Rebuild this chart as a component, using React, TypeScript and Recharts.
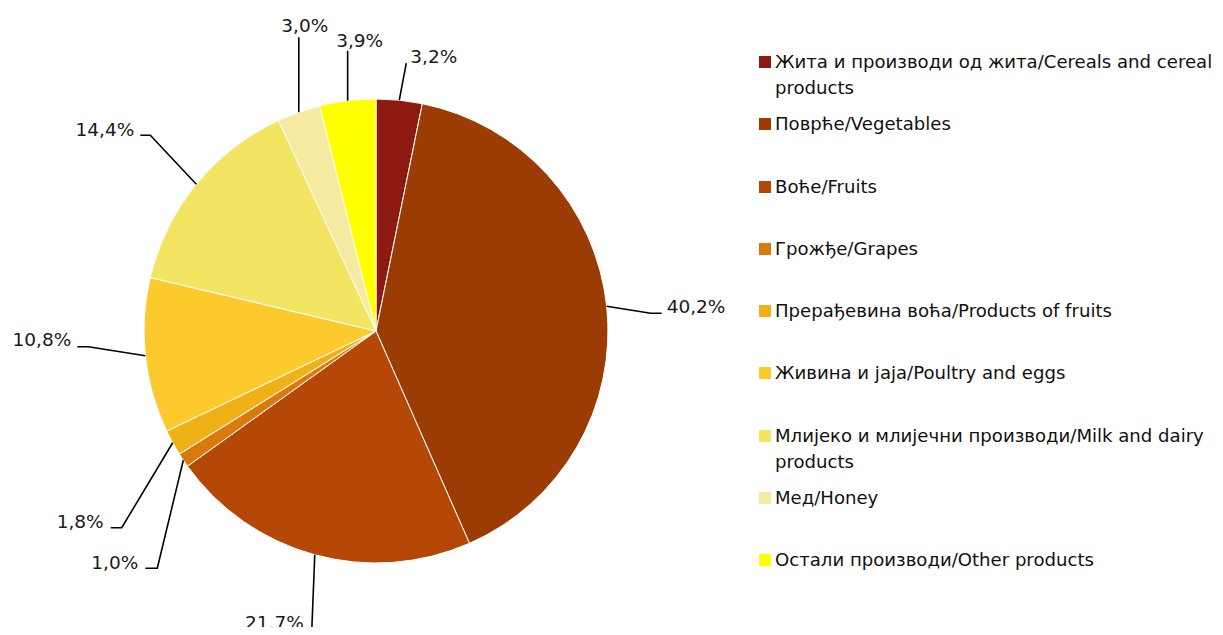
import React from 'react';
import { PieChart, Pie, Cell, Legend } from 'recharts';

const CATEGORIES = [
  'Жита и производи од жита/Cereals and cereal products',
  'Поврће/Vegetables',
  'Воће/Fruits',
  'Грожђе/Grapes',
  'Прерађевина воћа/Products of fruits',
  'Живина и јаја/Poultry and eggs',
  'Млијеко и млијечни производи/Milk and dairy products',
  'Мед/Honey',
  'Остали производи/Other products',
];
const VALUES = [3.2, 40.2, 21.7, 1.0, 1.8, 10.8, 14.4, 3.0, 3.9];
const COLORS = ['#8C1A10', '#9A3C03', '#B54806', '#DA7A0C', '#EFB116', '#FDCA2E', '#F3E462', '#F6E9A0', '#FFFF00'];

const FONT = "'DejaVu Sans', Verdana, sans-serif";

// leader line layout (elbow offset from slice edge, horizontal tail, text offset)
const LABEL_LAYOUT = [
  { ex: 7, ey: -37, h: 0, tx: 4, ty: -7, anchor: 'start' },
  { ex: 44, ey: 7, h: 11, tx: 5, ty: -7, anchor: 'start' },
  { ex: -3, ey: 75, h: -4, tx: -4, ty: -7, anchor: 'end' },
  { ex: -26, ey: 108, h: -12, tx: -7, ty: -6, anchor: 'end' },
  { ex: -51, ey: 85, h: -11, tx: -7, ty: -6, anchor: 'end' },
  { ex: -57, ey: -9, h: -11, tx: -6, ty: -7, anchor: 'end' },
  { ex: -46, ey: -49, h: -10, tx: -6, ty: -6, anchor: 'end' },
  { ex: 0, ey: -75, h: 0, tx: 6, ty: -12, anchor: 'middle' },
  { ex: 0, ey: -50, h: 0, tx: 12, ty: -10, anchor: 'middle' },
];

const data = CATEGORIES.map((name, i) => ({ name, value: VALUES[i] }));

const fmt = (v: number) => v.toFixed(1).replace('.', ',') + '%';

const renderLabel = (props: any) => {
  const { cx, cy, midAngle, outerRadius, index, value } = props;
  const rad = (-midAngle * Math.PI) / 180;
  const ax = cx + outerRadius * Math.cos(rad);
  const ay = cy + outerRadius * Math.sin(rad);
  const L = LABEL_LAYOUT[index];
  const ex = ax + L.ex;
  const ey = ay + L.ey;
  const hx = ex + L.h;
  return (
    <g key={`lbl-${index}`}>
      <polyline
        points={`${ax},${ay} ${ex},${ey} ${hx},${ey}`}
        fill="none"
        stroke="#000"
        strokeWidth={1.6}
      />
      <text
        x={hx + L.tx}
        y={ey + L.ty}
        textAnchor={L.anchor as any}
        dominantBaseline="central"
        fontFamily={FONT}
        fontSize={18.5}
        fill="#1a1a1a"
      >
        {fmt(value)}
      </text>
    </g>
  );
};

const renderLegend = () => (
  <div style={{ position: 'relative', width: 464, height: 635 }}>
    {CATEGORIES.map((name, i) => (
      <div
        key={name}
        style={{
          position: 'absolute',
          left: 0,
          top: 62 + i * 62.25 - 13,
          display: 'flex',
          alignItems: 'flex-start',
          fontFamily: FONT,
          fontSize: 18.1,
          lineHeight: '26px',
          color: '#111',
        }}
      >
        <div
          style={{
            width: 12,
            height: 12,
            marginTop: 7,
            marginRight: 4,
            background: COLORS[i],
            flex: '0 0 12px',
          }}
        />
        <div style={{ width: 446 }}>{name}</div>
      </div>
    ))}
  </div>
);

export default function App() {
  return (
    <div style={{ margin: -8, width: 1223, height: 635, background: '#fff', overflow: 'hidden' }}>
      <PieChart width={1223} height={635}>
        <Pie
          data={data}
          dataKey="value"
          nameKey="name"
          cx={371}
          cy={326}
          outerRadius={232}
          startAngle={90}
          endAngle={-270}
          stroke="#fff"
          strokeWidth={1}
          label={renderLabel}
          labelLine={false}
          isAnimationActive={false}
        >
          {data.map((d, i) => (
            <Cell key={d.name} fill={COLORS[i]} />
          ))}
        </Pie>
        <Legend
          content={renderLegend}
          wrapperStyle={{ position: 'absolute', left: 759, top: 0, width: 464, height: 635 }}
        />
      </PieChart>
    </div>
  );
}
